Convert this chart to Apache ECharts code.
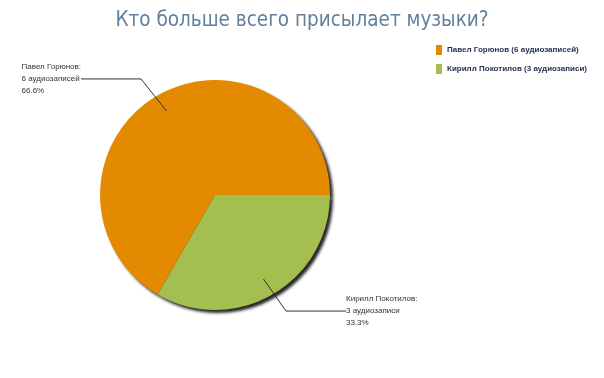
<!DOCTYPE html>
<html>
<head>
<meta charset="utf-8">
<script src="https://cdn.jsdelivr.net/npm/echarts@6/dist/echarts.min.js"></script>
<style>
html, body { margin: 0; padding: 0; background: #fff; }
#chart { width: 604px; height: 378px; }
</style>
</head>
<body>
<div id="chart"></div>
<script>
var names = ['Павел Горюнов', 'Кирилл Покотилов'];
var counts = [6, 3];
var words = ['аудиозаписей', 'аудиозаписи'];
var colors = ['#E38A00', '#A4BE4F'];

var total = counts[0] + counts[1];
var data = names.map(function (n, i) {
    return { name: n, value: counts[i], word: words[i] };
});

var chart = echarts.init(document.getElementById('chart'));
var option = {
    backgroundColor: '#fff',
    animation: false,
    color: colors,
    title: {
        text: 'Кто больше всего присылает музыки?',
        left: 'center',
        top: 5,
        textStyle: {
            color: '#62809e',
            fontSize: 20.5,
            fontWeight: 'normal',
            fontFamily: 'Liberation Sans Narrow, DejaVu Sans Condensed, sans-serif'
        }
    },
    legend: {
        orient: 'vertical',
        left: 431,
        top: 40,
        itemWidth: 6,
        itemHeight: 10,
        itemGap: 9,
        icon: 'rect',
        data: names,
        formatter: function (name) {
            var i = names.indexOf(name);
            return name + ' (' + counts[i] + ' ' + words[i] + ')';
        },
        textStyle: {
            color: '#1f2d4f',
            fontSize: 8,
            fontWeight: 'bold',
            fontFamily: 'Liberation Sans'
        }
    },
    series: [{
        type: 'pie',
        z: 2,
        center: [215, 195],
        radius: 115,
        startAngle: 240,
        clockwise: true,
        data: data,
        itemStyle: {
            shadowColor: 'rgba(0,0,0,0.85)',
            shadowBlur: 3,
            shadowOffsetX: 3,
            shadowOffsetY: 3
        },
        label: { show: false },
        labelLine: { show: false },
        emphasis: { disabled: true }
    }, {
        // transparent overlay: only carries the labels so the lines start inside the pie
        type: 'pie',
        z: 5,
        center: [215, 195],
        radius: 97,
        startAngle: 240,
        clockwise: true,
        silent: true,
        data: data,
        itemStyle: { color: 'rgba(0,0,0,0)' },
        label: {
            show: true,
            color: '#333',
            fontSize: 8,
            lineHeight: 12,
            fontFamily: 'Liberation Sans',
            distanceToLabelLine: 4,
            formatter: function (p) {
                var pct = Math.floor(p.value / total * 1000) / 10;
                return p.name + ':\n' + p.value + ' ' + p.data.word + '\n' + pct + '%';
            }
        },
        labelLine: {
            show: true,
            length: 37,
            length2: 60,
            lineStyle: { color: '#333', width: 1 }
        },
        labelLayout: function (params) {
            var pts = params.labelLinePoints;
            var leftSide = pts && params.labelRect.x < pts[2][0];
            return { x: params.labelRect.x - (leftSide ? 3 : 0), align: 'left' };
        },
        emphasis: { disabled: true }
    }]
};
chart.setOption(option);
</script>
</body>
</html>
